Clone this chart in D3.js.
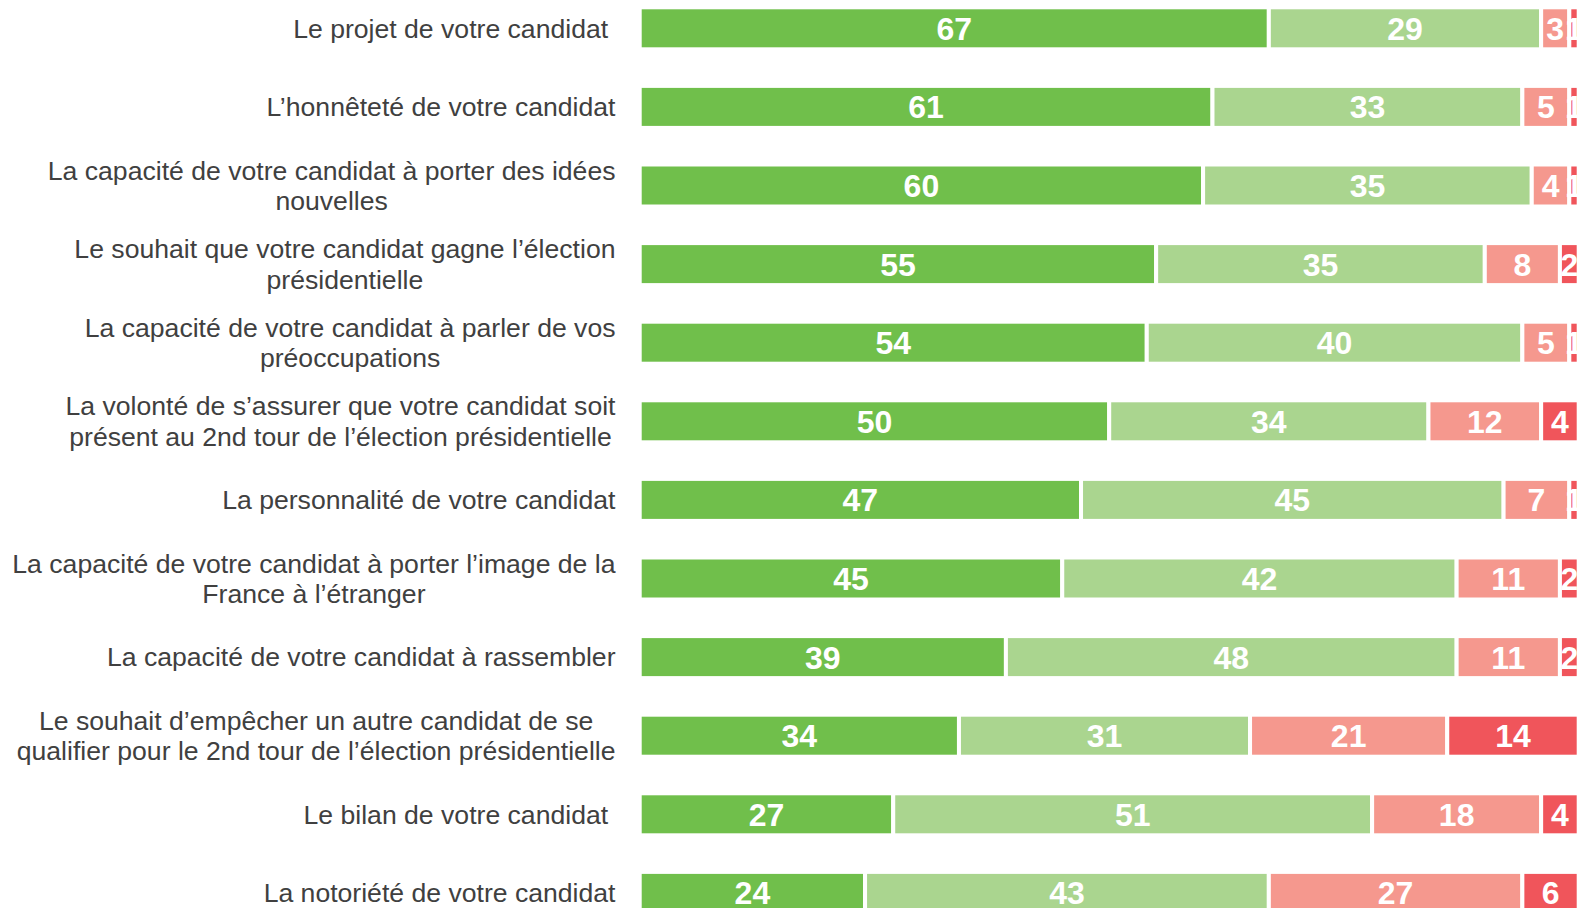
<!DOCTYPE html>
<html>
<head>
<meta charset="utf-8">
<script src="https://cdn.jsdelivr.net/npm/d3@7"></script>
<style>
  html, body { margin: 0; padding: 0; background: #fff; overflow: hidden; }
  text { white-space: pre; }
</style>
</head>
<body>
<svg id="chart" width="1577" height="908"></svg>
<script>
// Categories (line breaks as in the original)
const categories = [
    "Le projet de votre candidat ",
    "L\u2019honnêteté de votre candidat",
    "La capacité de votre candidat à porter des idées\nnouvelles",
    "Le souhait que votre candidat gagne l\u2019élection\nprésidentielle",
    "La capacité de votre candidat à parler de vos\npréoccupations",
    "La volonté de s\u2019assurer que votre candidat soit\nprésent au 2nd tour de l\u2019élection présidentielle",
    "La personnalité de votre candidat",
    "La capacité de votre candidat à porter l\u2019image de la\nFrance à l\u2019étranger",
    "La capacité de votre candidat à rassembler",
    "Le souhait d\u2019empêcher un autre candidat de se\nqualifier pour le 2nd tour de l\u2019élection présidentielle",
    "Le bilan de votre candidat ",
    "La notoriété de votre candidat"
];

// Series values (%)
const tresImportant   = [67, 61, 60, 55, 54, 50, 47, 45, 39, 34, 27, 24];
const plutotImportant = [29, 33, 35, 35, 40, 34, 45, 42, 48, 31, 51, 43];
const pasVraiment     = [3, 5, 4, 8, 5, 12, 7, 11, 11, 21, 18, 27];
const pasDuTout       = [1, 1, 1, 2, 1, 4, 1, 2, 2, 14, 4, 6];

const seriesKeys = ["tres", "plutot", "pasVraiment", "pasDuTout"];
const colors = ["#70bf4b", "#aad58f", "#f5988e", "#f0555b"];

const rows = categories.map(function(c, i) {
    return {
        label: c,
        tres: tresImportant[i],
        plutot: plutotImportant[i],
        pasVraiment: pasVraiment[i],
        pasDuTout: pasDuTout[i]
    };
});

const svg = d3.select("#chart");

const x = d3.scaleLinear().domain([0, 100]).range([639.7, 1578.7]);
const y = d3.scaleBand()
    .domain(categories)
    .range([-11, 932.2])
    .paddingInner(0.4656)
    .paddingOuter(0.2328);

const stack = d3.stack().keys(seriesKeys);
const stacked = stack(rows);

// Bars
const layers = svg.selectAll(".layer")
    .data(stacked)
    .enter()
    .append("g")
    .attr("class", "layer")
    .attr("fill", function(d, i) { return colors[i]; });

layers.selectAll("rect")
    .data(function(d) { return d; })
    .enter()
    .append("rect")
    .attr("x", function(d) { return x(d[0]); })
    .attr("y", function(d) { return y(d.data.label); })
    .attr("width", function(d) { return x(d[1]) - x(d[0]); })
    .attr("height", y.bandwidth())
    .attr("stroke", "#fff")
    .attr("stroke-width", 4);

// Values inside the bars
layers.selectAll(".val")
    .data(function(d) { return d; })
    .enter()
    .append("text")
    .attr("class", "val")
    .attr("x", function(d) { return (x(d[0]) + x(d[1])) / 2; })
    .attr("y", function(d) { return y(d.data.label) + y.bandwidth() / 2; })
    .attr("dy", "0.36em")
    .attr("text-anchor", "middle")
    .attr("fill", "#fff")
    .style("font-family", "'Liberation Sans', Arial, sans-serif")
    .style("font-weight", "bold")
    .style("font-size", "32px")
    .text(function(d) { return d[1] - d[0]; });

// Category labels: lines centred in a block right-aligned against the bars
const labelRight = 615.5;
const lineHeight = 30.4;

categories.forEach(function(c) {
    const lines = c.split("\n");
    const cy = y(c) + y.bandwidth() / 2;
    const g = svg.append("g");
    const texts = lines.map(function(line, j) {
        return g.append("text")
            .attr("y", cy + (j - (lines.length - 1) / 2) * lineHeight)
            .attr("dy", "0.35em")
            .attr("text-anchor", "middle")
            .attr("fill", "#404040")
            .style("font-family", "'Liberation Sans', Arial, sans-serif")
            .style("font-size", "26.6px")
            .text(line);
    });
    const maxW = d3.max(texts, function(t) { return t.node().getComputedTextLength(); });
    texts.forEach(function(t) { t.attr("x", labelRight - maxW / 2); });
});
</script>
</body>
</html>
